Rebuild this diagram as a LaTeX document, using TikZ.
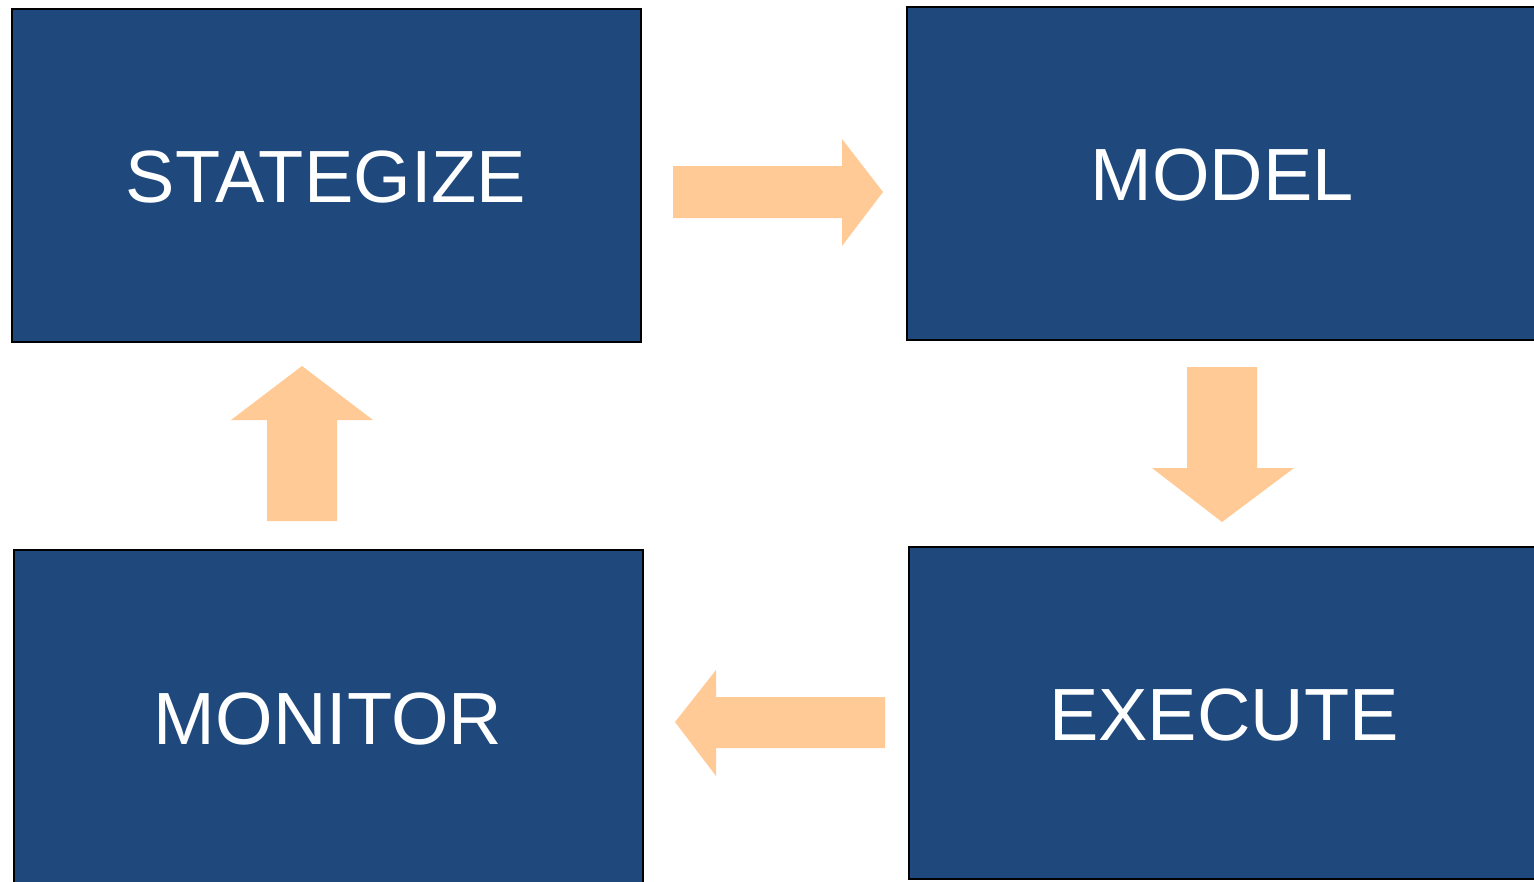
\documentclass[tikz,border=0pt]{standalone}
\usepackage{fontspec}
\setmainfont{Liberation Sans}
\definecolor{boxblue}{HTML}{1F497D}
\definecolor{flowarrow}{HTML}{FFCA96}
\begin{document}
\begin{tikzpicture}[x=1pt,y=-1pt,
  stagebox/.style={draw=black,line width=2.4pt,fill=boxblue},
  stagelabel/.style={text=white,inner sep=0pt,font=\fontsize{74}{84}\selectfont},
  blockarrow/.style={fill=flowarrow,draw=none}]
\useasboundingbox (0,0) rectangle (1534,881);
\clip (0,0) rectangle (1534,881);
% the four stages
\draw[stagebox] (12,9) rectangle (641,342);
\draw[stagebox] (907,7) rectangle (1545,340);
\draw[stagebox] (909,547) rectangle (1545,879);
\draw[stagebox] (14,550) rectangle (643,890);
\node[stagelabel] (strat) at (326,177) {STATEGIZE};
\node[stagelabel] (model) at (1222,175) {MODEL};
\node[stagelabel] (exec) at (1224,715) {EXECUTE};
\node[stagelabel] (mon) at (328,719) {MONITOR};
% block arrows between the stages
\fill[blockarrow] (673,166) -- (842,166) -- (842,139) -- (883,192) -- (842,246) -- (842,218) -- (673,218) -- cycle;
\fill[blockarrow] (1187,367) -- (1257,367) -- (1257,468) -- (1294,468) -- (1222,522) -- (1152,468) -- (1187,468) -- cycle;
\fill[blockarrow] (885,697) -- (716,697) -- (716,670) -- (675,722) -- (716,776) -- (716,748) -- (885,748) -- cycle;
\fill[blockarrow] (267,521) -- (337,521) -- (337,420) -- (373,420) -- (302,366) -- (231,420) -- (267,420) -- cycle;
\end{tikzpicture}
\end{document}
